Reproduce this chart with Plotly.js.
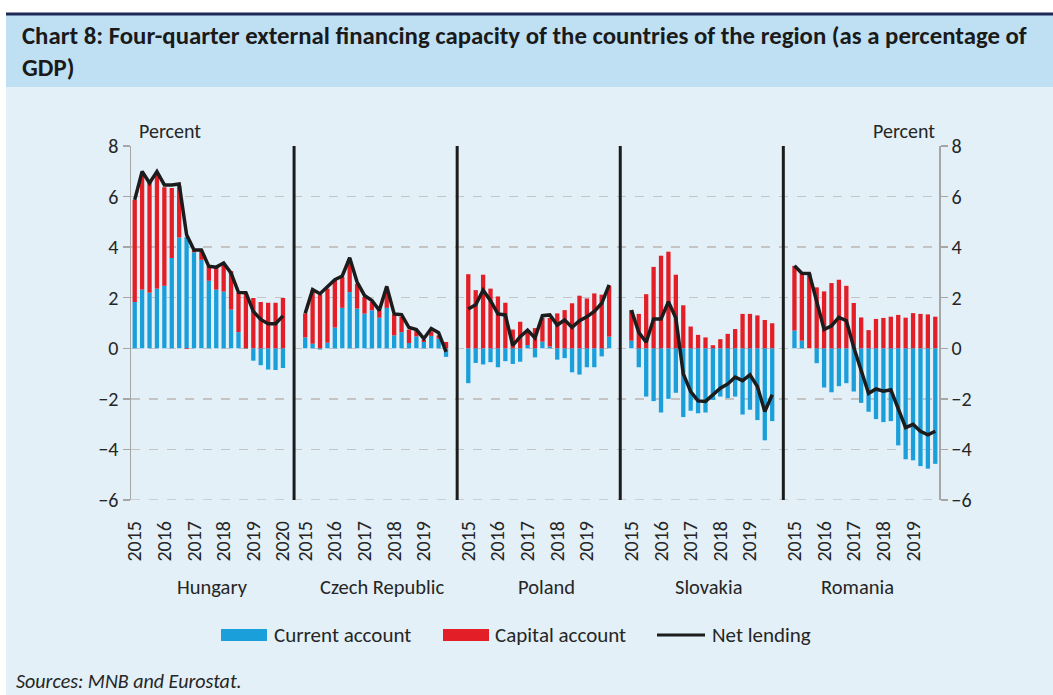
<!DOCTYPE html>
<html>
<head>
<meta charset="utf-8">
<script src="https://cdn.plot.ly/plotly-3.0.1.min.js"></script>
<style>
html,body{margin:0;padding:0;background:#ffffff;}
#chart{width:1053px;height:695px;}
</style>
</head>
<body>
<div id="chart"></div>
<script>
// ---------------- DATA ----------------
const countryNames = ['Hungary', 'Czech Republic', 'Poland', 'Slovakia', 'Romania'];
const yearLabels = ['2015', '2016', '2017', '2018', '2019', '2020'];
const seriesNames = ['Current account', 'Capital account', 'Net lending'];

// Hungary: 2015Q1 - 2020Q1
const huCA = [1.83, 2.32, 2.20, 2.36, 2.47, 3.57, 4.38, 4.40, 3.80, 3.50, 2.67, 2.32, 2.24, 1.53, 0.64, -0.02, -0.49, -0.67, -0.84, -0.86, -0.78];
const huKA = [4.04, 4.60, 4.37, 4.54, 3.90, 2.77, 2.05, -0.03, 0.07, 0.34, 0.57, 0.89, 1.10, 1.52, 1.56, 2.20, 1.99, 1.83, 1.80, 1.80, 1.99];
const huNL = [5.87, 6.99, 6.54, 6.99, 6.46, 6.46, 6.50, 4.49, 3.89, 3.89, 3.24, 3.21, 3.37, 2.97, 2.21, 2.20, 1.46, 1.14, 0.97, 0.97, 1.28];

// Czech Republic: 2015Q1 - 2019Q4
const czCA = [0.43, 0.18, -0.05, 0.22, 0.82, 1.60, 2.22, 1.57, 1.37, 1.50, 1.21, 1.60, 0.51, 0.64, 0.21, 0.47, 0.25, 0.49, 0.38, -0.34];
const czKA = [0.95, 2.11, 2.13, 2.14, 1.86, 1.22, 1.19, 0.98, 0.66, 0.33, 0.29, 0.69, 0.82, 0.60, 0.53, 0.21, 0.09, 0.18, 0.13, 0.25];
const czNL = [1.38, 2.32, 2.16, 2.42, 2.71, 2.86, 3.58, 2.62, 2.09, 1.89, 1.50, 2.45, 1.36, 1.33, 0.82, 0.74, 0.38, 0.78, 0.62, -0.14];

// Poland
const plCA = [-1.38, -0.58, -0.64, -0.55, -0.75, -0.51, -0.62, -0.53, 0.13, -0.36, 0.26, 0.07, -0.45, -0.39, -0.95, -1.04, -0.75, -0.75, -0.32, 0.46];
const plKA = [2.93, 2.30, 2.91, 2.36, 2.05, 1.80, 0.74, 1.05, 0.55, 0.80, 0.94, 1.13, 1.38, 1.51, 1.78, 2.08, 1.97, 2.17, 2.12, 2.01];
const plNL = [1.55, 1.72, 2.30, 1.88, 1.36, 1.32, 0.11, 0.46, 0.72, 0.41, 1.29, 1.32, 0.92, 1.12, 0.83, 1.09, 1.25, 1.46, 1.78, 2.51];

// Slovakia
const skCA = [0.30, -0.75, -1.91, -2.09, -2.54, -2.00, -1.76, -2.72, -2.47, -2.57, -2.54, -2.04, -1.91, -1.97, -1.91, -2.62, -2.43, -2.84, -3.64, -2.88];
const skKA = [1.21, 1.36, 2.14, 3.22, 3.66, 3.82, 2.91, 1.70, 0.86, 0.53, 0.43, 0.12, 0.36, 0.57, 0.76, 1.36, 1.36, 1.30, 1.12, 0.99];
const skNL = [1.51, 0.63, 0.24, 1.16, 1.16, 1.84, 1.20, -1.01, -1.71, -2.08, -2.10, -1.82, -1.58, -1.41, -1.14, -1.28, -1.05, -1.51, -2.50, -1.84];

// Romania
const roCA = [0.70, 0.30, 0.00, -0.59, -1.55, -1.74, -1.50, -1.38, -1.71, -2.16, -2.51, -2.80, -2.92, -2.88, -3.84, -4.39, -4.43, -4.66, -4.76, -4.57];
const roKA = [2.56, 2.66, 2.96, 2.41, 2.25, 2.58, 2.71, 2.47, 1.79, 1.22, 0.72, 1.16, 1.20, 1.25, 1.32, 1.21, 1.39, 1.36, 1.34, 1.25];
const roNL = [3.26, 2.97, 2.96, 1.82, 0.74, 0.89, 1.22, 1.09, 0.04, -0.88, -1.78, -1.61, -1.70, -1.64, -2.37, -3.14, -3.01, -3.28, -3.42, -3.28];

const caByCountry = [huCA, czCA, plCA, skCA, roCA];
const kaByCountry = [huKA, czKA, plKA, skKA, roKA];
const nlByCountry = [huNL, czNL, plNL, skNL, roNL];

// ---------------- BUILD ----------------
const GAP = 2; // empty category slots between panels
const xs = [], caY = [], kaY = [], lineX = [], lineY = [];
const tickvals = [], ticktext = [], seps = [], centers = [];
let pos = 0;
countryNames.forEach((name, i) => {
  const ca = caByCountry[i], ka = kaByCountry[i], nl = nlByCountry[i];
  const start = pos;
  for (let j = 0; j < ca.length; j++) {
    xs.push(pos + j); caY.push(ca[j]); kaY.push(ka[j]);
    lineX.push(pos + j); lineY.push(nl[j]);
    if (j % 4 === 0) { tickvals.push(pos + j); ticktext.push(yearLabels[j / 4]); }
  }
  centers.push(start + (ca.length - 1) / 2);
  pos += ca.length;
  if (i < countryNames.length - 1) {
    seps.push(pos - 1 + (GAP + 1) / 2);
    lineX.push(pos); lineY.push(null);
    pos += GAP;
  }
});

const W = 1053, H = 695;
const ML = 131, MR = 114, MT = 146, MB = 195;
const PW = W - ML - MR, PH = H - MT - MB;
const px = v => (v - ML) / PW;
const py = v => (H - MB - v) / PH;

const FONT = 'Carlito, Lato, "Open Sans", sans-serif';
const TXT = '#262626';
const BLUE = '#1a9fdb', RED = '#e31e26', BLACK = '#1c1c1c';

const traces = [
  { type: 'bar', name: seriesNames[0], x: xs, y: caY, marker: { color: BLUE }, showlegend: false, hoverinfo: 'y' },
  { type: 'bar', name: seriesNames[1], x: xs, y: kaY, marker: { color: RED }, showlegend: false, hoverinfo: 'y' },
  { type: 'scatter', mode: 'lines', name: seriesNames[2], x: lineX, y: lineY, connectgaps: false,
    line: { color: BLACK, width: 3.5 }, showlegend: false, hoverinfo: 'y' },
  { type: 'scatter', x: [0], y: [null], yaxis: 'y2', showlegend: false, hoverinfo: 'skip' }
];

const shapes = [
  // panel background
  { type: 'rect', xref: 'paper', yref: 'paper', x0: px(6), x1: px(W + 10), y0: py(H + 10), y1: py(15), fillcolor: '#e3f0f8', line: { width: 0 }, layer: 'below' },
  // header band
  { type: 'rect', xref: 'paper', yref: 'paper', x0: px(6), x1: px(W + 10), y0: py(87), y1: py(15), fillcolor: '#bfe0f3', line: { width: 0 }, layer: 'below' },
  // navy top rule
  { type: 'rect', xref: 'paper', yref: 'paper', x0: px(6), x1: px(W + 10), y0: py(15.5), y1: py(12.5), fillcolor: '#1f2857', line: { width: 0 }, layer: 'below' }
];
seps.forEach(s => shapes.push({ type: 'line', xref: 'x', yref: 'y', x0: s, x1: s, y0: -6, y1: 8, line: { color: BLACK, width: 3 } }));
// bottom dashed grid at -6
shapes.push({ type: 'line', xref: 'paper', yref: 'y', x0: 0, x1: 1, y0: -6, y1: -6, line: { color: '#c4c4c4', width: 1.5, dash: 'dash' }, layer: 'below' });
// legend swatches
shapes.push({ type: 'rect', xref: 'paper', yref: 'paper', x0: px(221), x1: px(267), y0: py(641), y1: py(629), fillcolor: BLUE, line: { width: 0 } });
shapes.push({ type: 'rect', xref: 'paper', yref: 'paper', x0: px(443), x1: px(489), y0: py(641), y1: py(629), fillcolor: RED, line: { width: 0 } });
shapes.push({ type: 'line', xref: 'paper', yref: 'paper', x0: px(657), x1: px(705), y0: py(635), y1: py(635), line: { color: BLACK, width: 3 } });

const annotations = [];
const countryShift = [4, 7, 8, 7, -7];
centers.forEach((c, i) => annotations.push({
  x: c, xref: 'x', y: py(587), yref: 'paper', text: countryNames[i], showarrow: false,
  xanchor: 'center', yanchor: 'middle', xshift: countryShift[i], font: { family: FONT, size: 20.5, color: TXT }
}));
annotations.push({ x: px(137), xref: 'paper', y: py(131), yref: 'paper', text: 'Percent', showarrow: false, xanchor: 'left', yanchor: 'middle', font: { family: FONT, size: 20, color: TXT } });
annotations.push({ x: px(937), xref: 'paper', y: py(131), yref: 'paper', text: 'Percent', showarrow: false, xanchor: 'right', yanchor: 'middle', font: { family: FONT, size: 20, color: TXT } });
[[272, seriesNames[0]], [493, seriesNames[1]], [710, seriesNames[2]]].forEach(([x, t]) => annotations.push({
  x: px(x), xref: 'paper', y: py(635), yref: 'paper', text: t, showarrow: false, xanchor: 'left', yanchor: 'middle',
  font: { family: FONT, size: 21, color: TXT }
}));
annotations.push({ x: px(14), xref: 'paper', y: py(695), yref: 'paper', text: '<i>Sources: MNB and Eurostat.</i>', showarrow: false, xanchor: 'left', yanchor: 'bottom', font: { family: FONT, size: 20, color: TXT } });

const yax = {
  range: [-6, 8], dtick: 2, tick0: 0, showgrid: true, gridcolor: '#c4c4c4', gridwidth: 1.5, griddash: 'dash',
  zeroline: false, showline: true, linecolor: '#a6a6a6', linewidth: 1.5, ticks: 'outside', ticklen: 7,
  tickcolor: '#a6a6a6', tickwidth: 1.5, tickfont: { family: FONT, size: 20, color: TXT }, fixedrange: true
};

const layout = {
  width: W, height: H,
  margin: { l: ML, r: MR, t: MT, b: MB, pad: 0 },
  paper_bgcolor: '#ffffff', plot_bgcolor: 'rgba(0,0,0,0)',
  title: {
    text: '<b>Chart 8: Four-quarter external financing capacity of the countries of the region (as a percentage of</b><br><b>GDP)</b>',
    x: 22 / W, xanchor: 'left', xref: 'container', y: 1 - 44 / H, yanchor: 'top', yref: 'container',
    font: { family: FONT, size: 24.8, color: '#1a1a1a' }
  },
  barmode: 'relative', bargap: 0.42,
  showlegend: false,
  xaxis: {
    range: [-0.5, pos - 0.5], tickmode: 'array', tickvals: tickvals, ticktext: ticktext, tickangle: -90,
    showgrid: false, zeroline: false, showline: false, ticks: 'outside', ticklen: 12, tickcolor: 'rgba(0,0,0,0)',
    tickfont: { family: FONT, size: 20, color: TXT }, fixedrange: true
  },
  yaxis: Object.assign({}, yax, { side: 'left' }),
  yaxis2: Object.assign({}, yax, { side: 'right', overlaying: 'y', showgrid: false }),
  shapes: shapes,
  annotations: annotations
};

Plotly.newPlot('chart', traces, layout, { displayModeBar: false, staticPlot: true });
</script>
</body>
</html>
